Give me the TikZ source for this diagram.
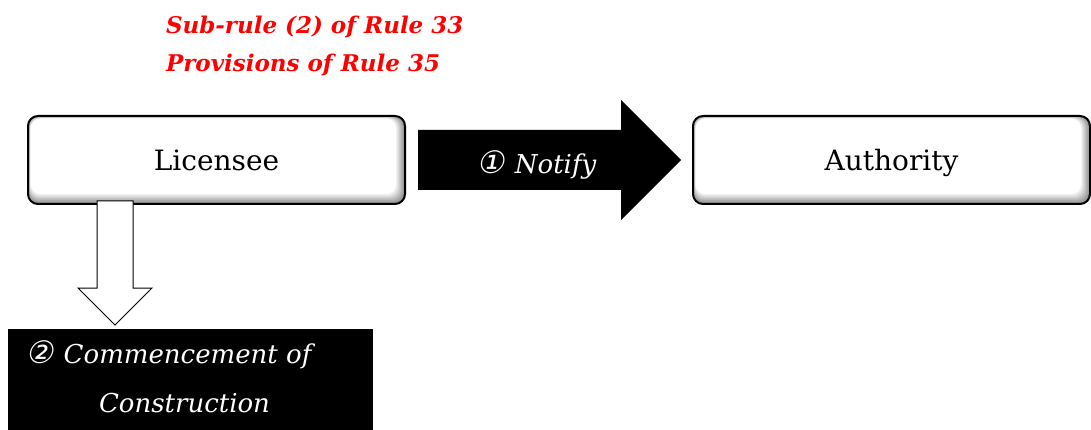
\documentclass[tikz,border=0pt]{standalone}
\usepackage{fontspec}
\setmainfont{DejaVu Serif}
\newfontfamily\circfont[FakeSlant=0.2]{DejaVu Sans}
\usetikzlibrary{calc,backgrounds}
\newcommand{\circnum}[1]{{\fontsize{31}{49}\selectfont\circfont #1}\hspace{0.4em}}
\begin{document}
\begin{tikzpicture}[x=1pt,y=-1pt,every node/.style={outer sep=0pt, inner sep=0pt},
  party/.style={draw=black, line width=2pt, rounded corners=10pt, minimum height=88pt, text height=27pt, text depth=5pt, font=\fontsize{28}{32}\selectfont},
  rulenote/.style={anchor=base west, text=red, font=\fontsize{23}{27}\selectfont\bfseries\itshape},
  stepnote/.style={text=white, font=\fontsize{26}{49}\selectfont\itshape}]
\useasboundingbox (0,0) rectangle (1091,430);
\node[rulenote] (rule33) at (166,34) {Sub-rule (2) of Rule 33};
\node[rulenote] (rule35) at (166,72) {Provisions of Rule 35};
\node[party, minimum width=377pt] (licensee) at (216.5,160) {Licensee};
\node[party, minimum width=397pt] (authority) at (891.5,160) {Authority};
\begin{scope}[on background layer]
\foreach \party in {licensee,authority}{
  \foreach \k/\tone in {0/45,1/40,2/35,3/30,4/25,5/20,6/15,7/10,8/5,9/0}{
    \fill[fill=black!\tone, rounded corners=10pt] ($(\party.north west)+(0.3*\k,0.3*\k)$) rectangle ($(\party.south east)+(-\k,-1.1*\k)$);
  }
}
\end{scope}
\node[fill=black, minimum width=365pt, minimum height=101pt] (commence) at (190.5,379.5) {};
\coordinate (tail) at ($(licensee.east)+(13,0)$);
\coordinate (tip) at ($(authority.west)+(-12,0)$);
\fill[black] ($(tail)+(0,-30)$) -- ($(tip)+(-60,-30)$) -- ($(tip)+(-60,-60)$) -- (tip) -- ($(tip)+(-60,60)$) -- ($(tip)+(-60,30)$) -- ($(tail)+(0,30)$) -- cycle;
\node[stepnote] (notify) at ($(tail)!0.5!(tip)+(-13,5)$) {\circnum{①}Notify};
\coordinate (drop) at ($(licensee.south west)+(87,-3)$);
\coordinate (land) at ($(drop |- commence.north)+(0,-4)$);
\draw[fill=white, line width=1pt] ($(drop)+(-18,0)$) -- ($(land)+(-18,-37)$) -- ($(land)+(-37,-37)$) -- (land) -- ($(land)+(37,-37)$) -- ($(land)+(18,-37)$) -- ($(drop)+(18,0)$) -- cycle;
\node[stepnote, align=center] (construction) at ($(commence.center)+(-6,-3)$) {\circnum{②}Commencement of\hspace*{32pt}\\Construction};
\end{tikzpicture}
\end{document}
